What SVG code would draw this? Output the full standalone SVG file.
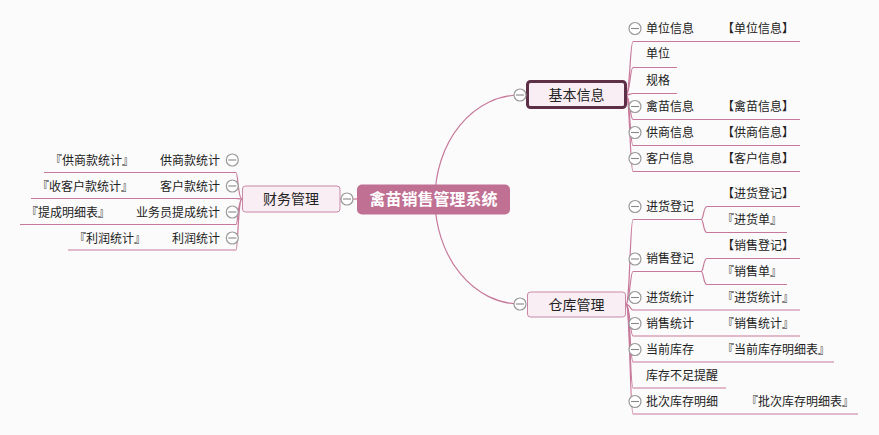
<svg xmlns="http://www.w3.org/2000/svg" width="879" height="435" viewBox="0 0 879 435">
<defs>
<style>
.bg{fill:#fbfbfb}
.ln{fill:none;stroke:#c7799b;stroke-width:1.2}
.t{font-family:"Noto Sans CJK SC","Liberation Sans",sans-serif;font-size:12px;fill:#222}
.tn{font-family:"Noto Sans CJK SC","Liberation Sans",sans-serif;font-size:14px;fill:#222;text-anchor:middle}
.tr{font-family:"Noto Sans CJK SC","Liberation Sans",sans-serif;font-size:16px;fill:#fff;font-weight:bold;text-anchor:middle}
.box{fill:#f8eef3;stroke:#c987a6;stroke-width:1}
.boxsel{fill:#f8eef3;stroke:#5e3048;stroke-width:3}
.root{fill:#c07092}
</style>
<g id="cb"><circle r="6" fill="#fff" stroke="#999" stroke-width="1.2"/><line x1="-4" y1="0" x2="4" y2="0" stroke="#888" stroke-width="1.1"/></g>
</defs>
<rect class="bg" width="879" height="435"/>
<g id="connectors">
<path class="ln" d="M435,199 A85,104 0 0 1 520,95"/>
<path class="ln" d="M435,199 A85,105 0 0 0 520,304"/>
<path class="ln" d="M340,199 H357"/>
<path class="ln" d="M626,95 C630,95 630,41.5 633,41.5 H800"/>
<path class="ln" d="M626,95 C630,95 630,67.5 633,67.5 H677"/>
<path class="ln" d="M626,95 C630,95 630,93.5 633,93.5 H677"/>
<path class="ln" d="M626,95 C630,95 630,119.5 633,119.5 H800"/>
<path class="ln" d="M626,95 C630,95 630,145.5 633,145.5 H800"/>
<path class="ln" d="M626,95 C630,95 630,171.5 633,171.5 H800"/>
<path class="ln" d="M626,304 C630,304 630,219.5 633,219.5 H701"/>
<path class="ln" d="M626,304 C630,304 630,271.5 633,271.5 H701"/>
<path class="ln" d="M626,304 C630,304 630,310 633,310 H800"/>
<path class="ln" d="M626,304 C630,304 630,336 633,336 H800"/>
<path class="ln" d="M626,304 C630,304 630,362 633,362 H834"/>
<path class="ln" d="M626,304 C630,304 630,388 633,388 H726"/>
<path class="ln" d="M626,304 C630,304 630,414 633,414 H858"/>
<path class="ln" d="M701,219.5 C704,219.5 703,206.5 707,206.5 H800"/>
<path class="ln" d="M701,219.5 C704,219.5 703,232.5 707,232.5 H787"/>
<path class="ln" d="M701,271.5 C704,271.5 703,258.5 707,258.5 H800"/>
<path class="ln" d="M701,271.5 C704,271.5 703,284.5 707,284.5 H787"/>
<path class="ln" d="M242,199 C238,199 238,172.5 236,172.5 H44"/>
<path class="ln" d="M242,199 C238,199 238,198.5 236,198.5 H31"/>
<path class="ln" d="M242,199 C238,199 238,224.5 236,224.5 H20"/>
<path class="ln" d="M242,199 C238,199 238,250 236,250 H68"/>
</g>
<g id="root">
<rect class="root" x="357" y="184.5" width="153" height="30" rx="5"/>
<text class="tr" x="433.5" y="205">禽苗销售管理系统</text>
</g>
<g id="n-jibenxinxi">
<rect class="boxsel" x="527.5" y="81.5" width="98" height="26" rx="3"/>
<text class="tn" x="576.5" y="99.5">基本信息</text>
<use href="#cb" x="520" y="95"/>
</g>
<g id="n-cangku">
<rect class="box" x="527.5" y="292" width="98" height="25" rx="3"/>
<text class="tn" x="576.5" y="309.5">仓库管理</text>
<use href="#cb" x="520" y="304"/>
</g>
<g id="n-caiwu">
<rect class="box" x="242.5" y="186" width="97.5" height="26" rx="3"/>
<text class="tn" x="291" y="204">财务管理</text>
<use href="#cb" x="347" y="199"/>
</g>
<g id="n-danweixinxi"><use href="#cb" x="635" y="28.5"/><text class="t" x="646" y="32.5">单位信息</text><text class="t" x="722" y="32.5">【单位信息】</text></g>
<g id="n-danwei"><text class="t" x="646" y="58">单位</text></g>
<g id="n-guige"><text class="t" x="646" y="84.5">规格</text></g>
<g id="n-qinmiao"><use href="#cb" x="635" y="106.5"/><text class="t" x="646" y="110.5">禽苗信息</text><text class="t" x="722" y="110.5">【禽苗信息】</text></g>
<g id="n-gongshang"><use href="#cb" x="635" y="132.5"/><text class="t" x="646" y="136.5">供商信息</text><text class="t" x="722" y="136.5">【供商信息】</text></g>
<g id="n-kehu"><use href="#cb" x="635" y="158.5"/><text class="t" x="646" y="162.5">客户信息</text><text class="t" x="722" y="162.5">【客户信息】</text></g>
<g id="n-jinhuodengji"><use href="#cb" x="635" y="206.5"/><text class="t" x="646" y="210.5">进货登记</text><text class="t" x="722" y="198">【进货登记】</text><text class="t" x="722" y="224">『进货单』</text></g>
<g id="n-xiaoshoudengji"><use href="#cb" x="635" y="259"/><text class="t" x="646" y="263">销售登记</text><text class="t" x="722" y="250">【销售登记】</text><text class="t" x="722" y="276">『销售单』</text></g>
<g id="n-jinhuotongji"><use href="#cb" x="635" y="297.5"/><text class="t" x="646" y="301.5">进货统计</text><text class="t" x="722" y="301.5">『进货统计』</text></g>
<g id="n-xiaoshoutongji"><use href="#cb" x="635" y="323.5"/><text class="t" x="646" y="327.5">销售统计</text><text class="t" x="722" y="327.5">『销售统计』</text></g>
<g id="n-dangqiankucun"><use href="#cb" x="635" y="349.5"/><text class="t" x="646" y="353.5">当前库存</text><text class="t" x="722" y="353.5">『当前库存明细表』</text></g>
<g id="n-kucunbuzu"><text class="t" x="646" y="380">库存不足提醒</text></g>
<g id="n-picikucun"><use href="#cb" x="635" y="401.5"/><text class="t" x="646" y="405.5">批次库存明细</text><text class="t" x="746" y="405.5">『批次库存明细表』</text></g>
<g id="n-gongshangkuan"><use href="#cb" x="232.3" y="160"/><text class="t" x="220" y="164.5" text-anchor="end">供商款统计</text><text class="t" x="50" y="164.5">『供商款统计』</text></g>
<g id="n-kehukuan"><use href="#cb" x="232.3" y="186"/><text class="t" x="220" y="190.5" text-anchor="end">客户款统计</text><text class="t" x="37" y="190.5">『收客户款统计』</text></g>
<g id="n-yewuyuan"><use href="#cb" x="232.3" y="212"/><text class="t" x="220" y="216.5" text-anchor="end">业务员提成统计</text><text class="t" x="26" y="216.5">『提成明细表』</text></g>
<g id="n-lirun"><use href="#cb" x="232.3" y="238"/><text class="t" x="220" y="242.5" text-anchor="end">利润统计</text><text class="t" x="74" y="242.5">『利润统计』</text></g>
</svg>
